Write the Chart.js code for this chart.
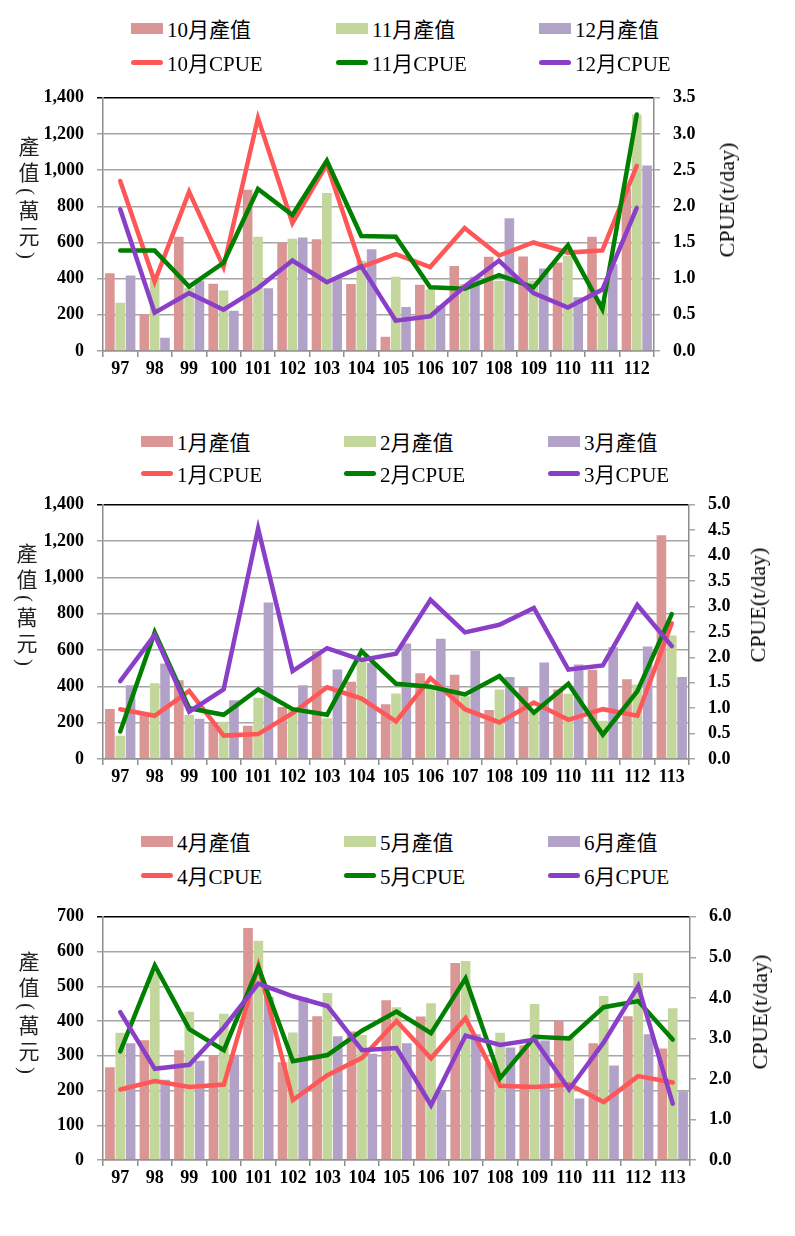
<!DOCTYPE html>
<html>
<head>
<meta charset="utf-8">
<script src="https://cdn.jsdelivr.net/npm/chart.js@4"></script>
<style>
  body { margin: 0; background: #fff; }
  #page { position: relative; width: 795px; height: 1236px; overflow: hidden;
    font-family: 'Liberation Serif', 'Noto Sans CJK TC', serif; color: #000; }
  canvas { position: absolute; left: 0; }
  .lg { position: absolute; display: flex; align-items: center; height: 28px; font-size: 21px; white-space: nowrap; }
  .sw { width: 32px; margin-right: 4px; }
  .ltitle { position: absolute; writing-mode: vertical-rl; font-size: 21px; letter-spacing: 5px; color: #222; }
  .rtitle { position: absolute; font-size: 22px; white-space: nowrap; transform: translate(-50%, -50%) rotate(-90deg); }
</style>
</head>
<body>
<div id="page"></div>
<script>
// chart data

// top panel: Oct - Dec
const yearsA = ['97', '98', '99', '100', '101', '102', '103', '104', '105', '106', '107', '108', '109', '110', '111', '112']
const octValue = [430, 203, 632, 372, 892, 600, 618, 371, 79, 366, 470, 521, 522, 489, 632, 900]
const novValue = [267, 400, 350, 334, 632, 621, 874, 499, 411, 340, 371, 389, 390, 527, 280, 1307]
const decValue = [417, 73, 390, 223, 347, 627, 398, 563, 243, 252, 411, 734, 456, 297, 480, 1026]
const octCpue = [2.35, 0.96, 2.2, 1.16, 3.22, 1.77, 2.58, 1.16, 1.34, 1.16, 1.7, 1.32, 1.5, 1.36, 1.39, 2.56]
const novCpue = [1.39, 1.39, 0.89, 1.22, 2.24, 1.88, 2.63, 1.59, 1.58, 0.88, 0.86, 1.05, 0.88, 1.46, 0.58, 3.27]
const decCpue = [1.96, 0.53, 0.8, 0.57, 0.87, 1.25, 0.95, 1.17, 0.42, 0.48, 0.89, 1.25, 0.8, 0.6, 0.85, 1.98]

// middle + bottom panels share the year axis
const yearsB = ['97', '98', '99', '100', '101', '102', '103', '104', '105', '106', '107', '108', '109', '110', '111', '112', '113']
const janValue = [276, 242, 434, 198, 183, 286, 594, 425, 302, 472, 464, 270, 397, 383, 492, 439, 1232]
const febValue = [128, 417, 242, 205, 337, 270, 225, 545, 361, 400, 345, 383, 260, 360, 210, 410, 680]
const marValue = [406, 526, 221, 324, 862, 406, 493, 530, 636, 662, 598, 451, 532, 521, 616, 620, 452]
const janCpue = [0.98, 0.85, 1.34, 0.46, 0.49, 0.9, 1.41, 1.19, 0.74, 1.59, 0.98, 0.72, 1.11, 0.77, 0.98, 0.85, 2.67]
const febCpue = [0.54, 2.49, 1.0, 0.87, 1.37, 0.98, 0.87, 2.12, 1.48, 1.42, 1.27, 1.63, 0.91, 1.48, 0.48, 1.33, 2.85]
const marCpue = [1.53, 2.44, 0.93, 1.37, 4.53, 1.73, 2.18, 1.95, 2.07, 3.13, 2.49, 2.64, 2.97, 1.76, 1.84, 3.03, 2.22]

const aprValue = [267, 345, 316, 302, 668, 281, 414, 370, 460, 413, 567, 280, 330, 401, 336, 414, 321]
const mayValue = [366, 540, 427, 421, 631, 367, 481, 360, 440, 451, 573, 366, 449, 358, 472, 538, 437]
const junValue = [336, 231, 286, 303, 470, 468, 356, 306, 336, 198, 362, 324, 344, 177, 272, 362, 198]
const aprCpue = [1.74, 1.95, 1.8, 1.86, 4.8, 1.48, 2.09, 2.52, 3.43, 2.51, 3.5, 1.83, 1.8, 1.86, 1.43, 2.07, 1.91]
const mayCpue = [2.68, 4.8, 3.23, 2.71, 4.76, 2.44, 2.59, 3.19, 3.66, 3.13, 4.48, 2.02, 3.04, 3.0, 3.77, 3.92, 2.97]
const junCpue = [3.65, 2.25, 2.35, 3.27, 4.35, 4.04, 3.8, 2.71, 2.76, 1.35, 3.07, 2.84, 2.97, 1.74, 2.9, 4.29, 1.39]

const BAR_COLORS = ['#d99694', '#c3d69b', '#b3a2c7']
const LINE_COLORS = ['#ff5757', '#008000', '#8a3fc9']
const FONT = "'Liberation Serif', 'Times New Roman', serif"
const GRID = '#a6a6a6'
const AXIS = '#8c8c8c'

const panels = [
  {
    months: ['10月', '11月', '12月'], labels: yearsA,
    values: [octValue, novValue, decValue], cpue: [octCpue, novCpue, decCpue],
    plotTop: 96, plotH: 255, rightW: 141, yMax: 1400, yStep: 200, y1Max: 3.5, y1Step: 0.5,
    cols: [131, 336, 539], rows: [28, 62], ltitle: [12, 136], rtitle: [727, 200],
  },
  {
    months: ['1月', '2月', '3月'], labels: yearsB,
    values: [janValue, febValue, marValue], cpue: [janCpue, febCpue, marCpue],
    plotTop: 503, plotH: 256, rightW: 106, yMax: 1400, yStep: 200, y1Max: 5, y1Step: 0.5,
    cols: [141, 344, 548], rows: [441, 473], ltitle: [10, 543], rtitle: [758, 605],
  },
  {
    months: ['4月', '5月', '6月'], labels: yearsB,
    values: [aprValue, mayValue, junValue], cpue: [aprCpue, mayCpue, junCpue],
    plotTop: 915, plotH: 245, rightW: 105, yMax: 700, yStep: 100, y1Max: 6, y1Step: 1,
    cols: [141, 344, 548], rows: [841, 875], ltitle: [12, 951], rtitle: [760, 1012],
  },
]

const page = document.getElementById('page')

const addDiv = (cls, css, html) => {
  const d = document.createElement('div')
  d.className = cls
  Object.assign(d.style, css)
  if (html) d.innerHTML = html
  page.appendChild(d)
  return d
}

const buildPanel = p => {
  // chart.js keeps ~10px above the plot for the top tick label
  const canvas = document.createElement('canvas')
  canvas.width = 795
  canvas.height = 22 + p.plotH + 40
  canvas.style.top = p.plotTop - 22 + 'px'
  page.appendChild(canvas)

  const barSets = p.values.map((vals, i) => ({
    type: 'bar',
    label: p.months[i] + '產值',
    data: vals,
    yAxisID: 'y',
    backgroundColor: BAR_COLORS[i],
    borderWidth: 0,
    categoryPercentage: 0.9,
    barPercentage: 0.93,
    order: 10,
  }))
  const lineSets = p.cpue.map((vals, i) => ({
    type: 'line',
    label: p.months[i] + 'CPUE',
    data: vals,
    yAxisID: 'y1',
    borderColor: LINE_COLORS[i],
    backgroundColor: LINE_COLORS[i],
    borderWidth: 4.5,
    borderCapStyle: 'round',
    pointRadius: 0,
    tension: 0,
    fill: false,
    order: 3 - i, // purple on top, then green, then red
  }))

  const tickFont = { family: FONT, size: 18, weight: 'bold' }

  const chart = new Chart(canvas.getContext('2d'), {
    type: 'bar',
    data: { labels: p.labels, datasets: [...barSets, ...lineSets] },
    options: {
      responsive: false,
      animation: false,
      devicePixelRatio: 1,
      layout: { padding: { top: 12, left: 0, right: 0, bottom: 0 } },
      plugins: { legend: { display: false }, tooltip: { enabled: false } },
      scales: {
        x: {
          offset: true,
          grid: { offset: true, drawOnChartArea: false, drawTicks: true, tickLength: 6, color: AXIS, lineWidth: 1.5 },
          border: { color: AXIS, width: 1.5 },
          ticks: { font: tickFont, color: '#000', padding: 2, maxRotation: 0, autoSkip: false },
          afterFit: s => { s.height = 40 },
        },
        y: {
          position: 'left',
          min: 0,
          max: p.yMax,
          ticks: { stepSize: p.yStep, padding: 13, font: tickFont, color: '#000',
            callback: v => v.toLocaleString('en-US') },
          grid: { color: c => (c.tick && c.tick.value === p.yMax ? '#000' : GRID), lineWidth: 1.5, drawTicks: true, tickLength: 6 },
          border: { color: AXIS, width: 1.5 },
          afterFit: s => { s.width = 103 },
        },
        y1: {
          position: 'right',
          min: 0,
          max: p.y1Max,
          ticks: { stepSize: p.y1Step, padding: 13, font: tickFont, color: '#000',
            callback: v => v.toFixed(1) },
          grid: { drawOnChartArea: false, drawTicks: true, tickLength: 6, color: GRID, lineWidth: 1.5 },
          border: { color: AXIS, width: 1.5 },
          afterFit: s => { s.width = p.rightW },
        },
      },
    },
  })

  // html legend: bars on the first row, lines on the second
  chart.data.datasets.forEach((ds, i) => {
    const col = i % 3
    const row = Math.floor(i / 3)
    const isBar = ds.type === 'bar'
    const sw = isBar
      ? `<div class="sw" style="height:11px;background:${ds.backgroundColor}"></div>`
      : `<div class="sw" style="height:5px;border-radius:3px;background:${ds.borderColor}"></div>`
    addDiv('lg', { left: p.cols[col] + 'px', top: p.rows[row] - 14 + 'px' }, sw + `<span>${ds.label}</span>`)
  })

  // axis titles
  addDiv('ltitle', { left: p.ltitle[0] + 'px', top: p.ltitle[1] + 'px' }, '產值(萬元)')
  addDiv('rtitle', { left: p.rtitle[0] + 'px', top: p.rtitle[1] + 'px' }, 'CPUE(t/day)')
}

panels.forEach(buildPanel)
</script>
</body>
</html>
